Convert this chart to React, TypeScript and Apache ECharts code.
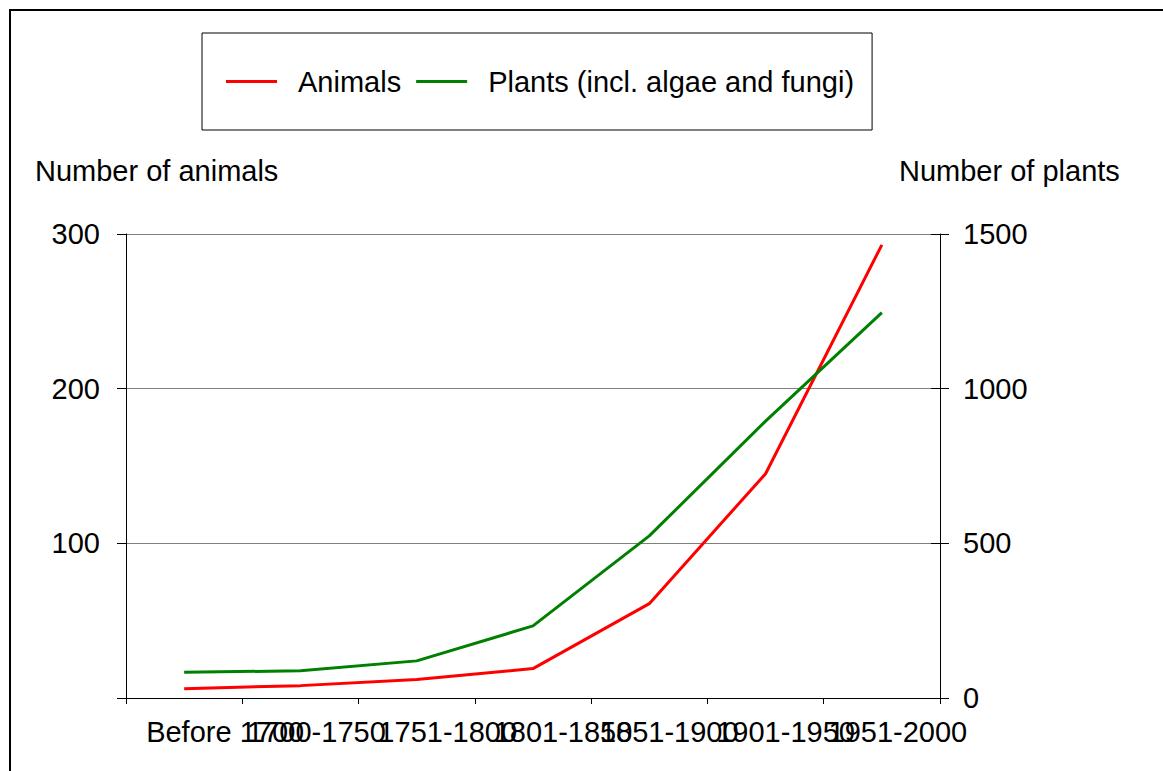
import React, { useEffect, useRef } from "react";
import * as echarts from "echarts";

const categories = ["Before 1700", "1700-1750", "1751-1800", "1801-1850", "1851-1900", "1901-1950", "1951-2000"];
const animals = [6, 8, 12, 19, 61, 145, 293];
const plants = [83, 88, 120, 233, 524, 895, 1246];
const leftTicks = { min: 0, max: 300, interval: 100 };
const rightTicks = { min: 0, max: 1500, interval: 500 };
const labelShift = [41, 16, 31, 30, 20, 20, 16];

const FONT = "'Liberation Sans', Arial, sans-serif";

export default function App() {
  const ref = useRef<HTMLDivElement>(null);
  useEffect(() => {
    if (!ref.current) return;
    const chart = echarts.init(ref.current, null, { renderer: "svg" });
    const rich: Record<string, any> = {};
    labelShift.forEach((s, i) => {
      rich["l" + i] = { fontSize: 29, fontFamily: FONT, color: "#000", padding: [0, 0, 0, 2 * s] };
    });
    chart.setOption({
      animation: false,
      backgroundColor: "#fff",
      textStyle: { fontFamily: FONT },
      legend: {
        left: 202,
        top: 33,
        orient: "horizontal",
        icon: "rect",
        itemWidth: 51,
        itemHeight: 3,
        itemGap: 15,
        borderColor: "#000",
        borderWidth: 1,
        padding: [34, 18, 34, 24],
        textStyle: { fontSize: 29, color: "#000", fontFamily: FONT, padding: [0, 0, 0, 16] },
        data: ["Animals", "Plants (incl. algae and fungi)"],
      },
      grid: { left: 126, right: 223, top: 234, bottom: 73, containLabel: false },
      xAxis: {
        type: "category",
        data: categories,
        boundaryGap: true,
        axisLine: { show: true, lineStyle: { color: "#000", width: 1 } },
        axisTick: { show: true, length: 6, alignWithLabel: false, lineStyle: { color: "#000" } },
        axisLabel: {
          interval: 0,
          margin: 19,
          fontSize: 29,
          color: "#000",
          fontFamily: FONT,
          formatter: (v: string, i: number) => `{l${i}|${v}}`,
          rich,
        },
        splitLine: { show: false },
      },
      yAxis: [
        {
          type: "value",
          position: "left",
          min: leftTicks.min,
          max: leftTicks.max,
          interval: leftTicks.interval,
          axisLine: { show: true, lineStyle: { color: "#000", width: 1 } },
          axisTick: { show: true, length: 9, lineStyle: { color: "#000" } },
          axisLabel: {
            margin: 26,
            fontSize: 29,
            color: "#000",
            fontFamily: FONT,
            formatter: (v: number) => (v === 0 ? "" : String(v)),
          },
          splitLine: { show: true, lineStyle: { color: "#808080", width: 1 } },
        },
        {
          type: "value",
          position: "right",
          min: rightTicks.min,
          max: rightTicks.max,
          interval: rightTicks.interval,
          axisLine: { show: true, lineStyle: { color: "#000", width: 1 } },
          axisTick: { show: true, length: 9, lineStyle: { color: "#000" } },
          axisLabel: {
            margin: 23,
            fontSize: 29,
            color: "#000",
            fontFamily: FONT,
            formatter: (v: number) => String(v),
          },
          splitLine: { show: false },
        },
        {
          type: "value",
          position: "right",
          min: rightTicks.min,
          max: rightTicks.max,
          interval: rightTicks.interval,
          axisLine: { show: false },
          axisTick: { show: true, inside: true, length: 9, lineStyle: { color: "#000" } },
          axisLabel: { show: false },
          splitLine: { show: false },
        },
      ],
      series: [
        {
          name: "Animals",
          type: "line",
          yAxisIndex: 0,
          data: animals,
          symbol: "none",
          color: "#ff0000",
          lineStyle: { color: "#ff0000", width: 3 },
        },
        {
          name: "Plants (incl. algae and fungi)",
          type: "line",
          yAxisIndex: 1,
          data: plants,
          symbol: "none",
          color: "#008000",
          lineStyle: { color: "#008000", width: 3 },
        },
      ],
      graphic: [
        {
          type: "rect",
          shape: { x: 10, y: 10, width: 1400, height: 1000 },
          style: { fill: "none", stroke: "#000", lineWidth: 2 },
          silent: true,
        },
        {
          type: "text",
          x: 35,
          y: 171,
          style: { text: "Number of animals", fontSize: 29, fontFamily: FONT, fill: "#000", verticalAlign: "middle", align: "left" },
        },
        {
          type: "text",
          x: 899,
          y: 171,
          style: { text: "Number of plants", fontSize: 29, fontFamily: FONT, fill: "#000", verticalAlign: "middle", align: "left" },
        },
      ],
    });
    return () => chart.dispose();
  }, []);
  return (
    <div
      ref={ref}
      style={{ position: "fixed", left: 0, top: 0, width: 1163, height: 771, background: "#fff" }}
    />
  );
}
